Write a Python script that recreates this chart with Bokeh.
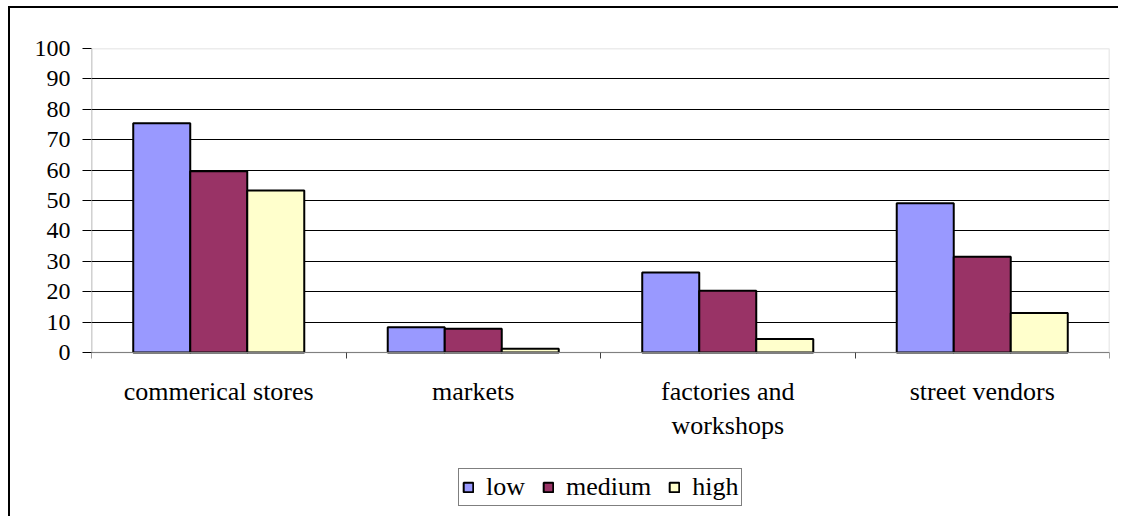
from bokeh.plotting import figure
from bokeh.models import ColumnDataSource, FixedTicker, Legend, LegendItem, Range1d, BoxAnnotation
from bokeh.embed import file_html
from bokeh.resources import INLINE
import numpy as np

categories = ["commerical stores", "markets", "factories and\nworkshops", "street vendors"]
series_names = ["low", "medium", "high"]
low = [75.4, 8.3, 26.3, 49.1]
medium = [59.6, 7.8, 20.3, 31.5]
high = [53.3, 1.2, 4.4, 13.0]
colors = ["#9999FF", "#993366", "#FFFFCC"]
y_ticks = list(range(0, 101, 10))
y_max = 100

FONT = "Liberation Serif"

# layout (pixels)
W, H = 1110, 510
B_LEFT, B_RIGHT, B_TOP, B_BOTTOM = 81, 11, 40, 8
PLOT_H = 304                      # pixel height of the 0..100 value area
frame_h = H - B_TOP - B_BOTTOM
y_start = -y_max * (frame_h - PLOT_H) / PLOT_H   # room below the value area for labels/legend

p = figure(width=W, height=H, output_backend="svg", toolbar_location=None,
           x_range=Range1d(0, len(categories)), y_range=Range1d(y_start, y_max),
           min_border_left=B_LEFT, min_border_right=B_RIGHT,
           min_border_top=B_TOP, min_border_bottom=B_BOTTOM)
p.styles = {"border-top": "2px solid black", "border-left": "2px solid black",
            "margin-left": "8px", "margin-top": "6px"}
p.outline_line_color = None

idx = np.arange(len(categories))
bar_w = 0.224

p.xgrid.grid_line_color = None
p.ygrid.ticker = FixedTicker(ticks=y_ticks[1:-1])
p.ygrid.grid_line_color = "black"
p.ygrid.grid_line_width = 1

items = []
for k, (name, vals) in enumerate(zip(series_names, [low, medium, high])):
    src = ColumnDataSource(dict(x=idx + 0.5 + (k - 1) * bar_w, top=vals))
    r = p.vbar(x="x", top="top", width=bar_w, bottom=0, source=src,
               fill_color=colors[k], line_color="black", line_width=2)
    items.append(LegendItem(label=name, renderers=[r]))

# plot-area border (gray) for the value region, darker value-axis line on the left
p.add_layout(BoxAnnotation(left=0, right=len(categories), bottom=0, top=y_max,
                           fill_alpha=0, line_color="#808080", line_width=1.5))
p.add_layout(BoxAnnotation(left=0, right=0, bottom=0, top=y_max,
                           fill_alpha=0, line_color="#404040", line_width=1.5))

# y axis
p.yaxis.ticker = FixedTicker(ticks=y_ticks)
p.yaxis.minor_tick_line_color = None
p.yaxis.axis_line_color = None
p.yaxis.major_tick_out = 9
p.yaxis.major_tick_in = 0
p.yaxis.major_label_standoff = 12
p.yaxis.major_label_text_font = FONT
p.yaxis.major_label_text_font_size = "24px"
p.yaxis.major_label_text_color = "black"
p.yaxis.major_tick_line_color = "black"

# x axis at value 0: labels at centers, tick marks at category boundaries
centers = list(idx + 0.5)
p.xaxis.fixed_location = 0
p.xaxis.ticker = FixedTicker(ticks=centers, minor_ticks=list(range(len(categories) + 1)))
p.xaxis.major_label_overrides = {float(c): lab for c, lab in zip(centers, categories)}
p.xaxis.major_tick_out = 0
p.xaxis.major_tick_in = 0
p.xaxis.minor_tick_out = 6
p.xaxis.minor_tick_in = 0
p.xaxis.minor_tick_line_color = "#404040"
p.xaxis.axis_line_color = "#808080"
p.xaxis.major_label_standoff = 18
p.xaxis.major_label_text_font = FONT
p.xaxis.major_label_text_font_size = "26px"
p.xaxis.major_label_text_color = "black"

legend = Legend(items=items, orientation="horizontal", location=(367, 4),
                label_text_font=FONT, label_text_font_size="26px", label_text_color="black",
                glyph_width=12, glyph_height=12, label_standoff=12, spacing=17,
                padding=3, margin=0, border_line_color="black", border_line_width=1,
                label_height=23)
p.add_layout(legend, "center")

open("out.html", "w").write(file_html(p, INLINE))
